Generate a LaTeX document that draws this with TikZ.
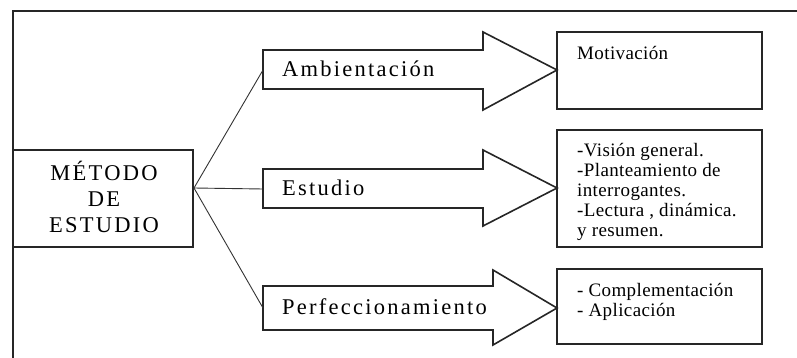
\documentclass[tikz,border=0pt]{standalone}
\usepackage{fontspec}
\setmainfont{Liberation Serif}
\newfontfamily\bigwide[LetterSpace=10]{Liberation Serif}
\newfontfamily\smallwide[LetterSpace=2]{Liberation Serif}
\begin{document}
\begin{tikzpicture}[x=1pt,y=-1pt,
  boxline/.style={draw=black!85,line width=1.6pt},
  blockarrow/.style={draw=black!85,line width=1.6pt,fill=white,line join=miter},
  bigtext/.style={font=\bigwide\fontsize{22.5}{26}\selectfont,inner sep=0pt},
  smalltext/.style={font=\smallwide\fontsize{19}{20}\selectfont,inner sep=0pt,align=left},
  link/.style={draw=black!80,line width=0.9pt}]
\useasboundingbox (0,0) rectangle (797,358);
% outer frame (cropped on the right and bottom)
\draw[line width=2pt,black!85] (13,358) -- (13,11) -- (797,11);
% main box
\draw[boxline] (13,150) rectangle (193,247);
\node[bigtext,align=center] (metodo) at (104,197) {MÉTODO\\DE\\ESTUDIO};
\coordinate (j) at (194,188);
% block arrows
\draw[blockarrow] (263,50) -- (483,50) -- (483,32) -- (557,70) -- (483,110) -- (483,89) -- (263,89) -- cycle;
\draw[blockarrow] (263,169) -- (483,169) -- (483,150) -- (557,188) -- (483,226) -- (483,208) -- (263,208) -- cycle;
\draw[blockarrow] (263,286) -- (493,286) -- (493,270) -- (557,308) -- (493,345) -- (493,330) -- (263,330) -- cycle;
\coordinate (ambw) at (263,70);
\coordinate (estw) at (263,189);
\coordinate (perw) at (263,308);
\node[bigtext,anchor=base west] (amb) at (282,77) {Ambientación};
\node[bigtext,anchor=base west] (est) at (282,196) {Estudio};
\node[bigtext,anchor=base west] (per) at (282,314) {Perfeccionamiento};
% connectors
\draw[link] (j) -- (ambw);
\draw[link] (j) -- (estw);
\draw[link] (j) -- (perw);
% right boxes
\draw[boxline] (557,32) rectangle (762,109);
\draw[boxline] (557,130) rectangle (762,247);
\draw[boxline] (557,269) rectangle (762,344);
\node[smalltext,anchor=base west] (mot) at (577,60) {Motivación};
\node[smalltext,anchor=north west] (vis) at (577,143) {-Visión general.\\-Planteamiento de\\interrogantes.\\-Lectura , dinámica.\\y resumen.};
\node[smalltext,anchor=north west] (comp) at (577,283) {- Complementación\\- Aplicación};
\end{tikzpicture}
\end{document}
